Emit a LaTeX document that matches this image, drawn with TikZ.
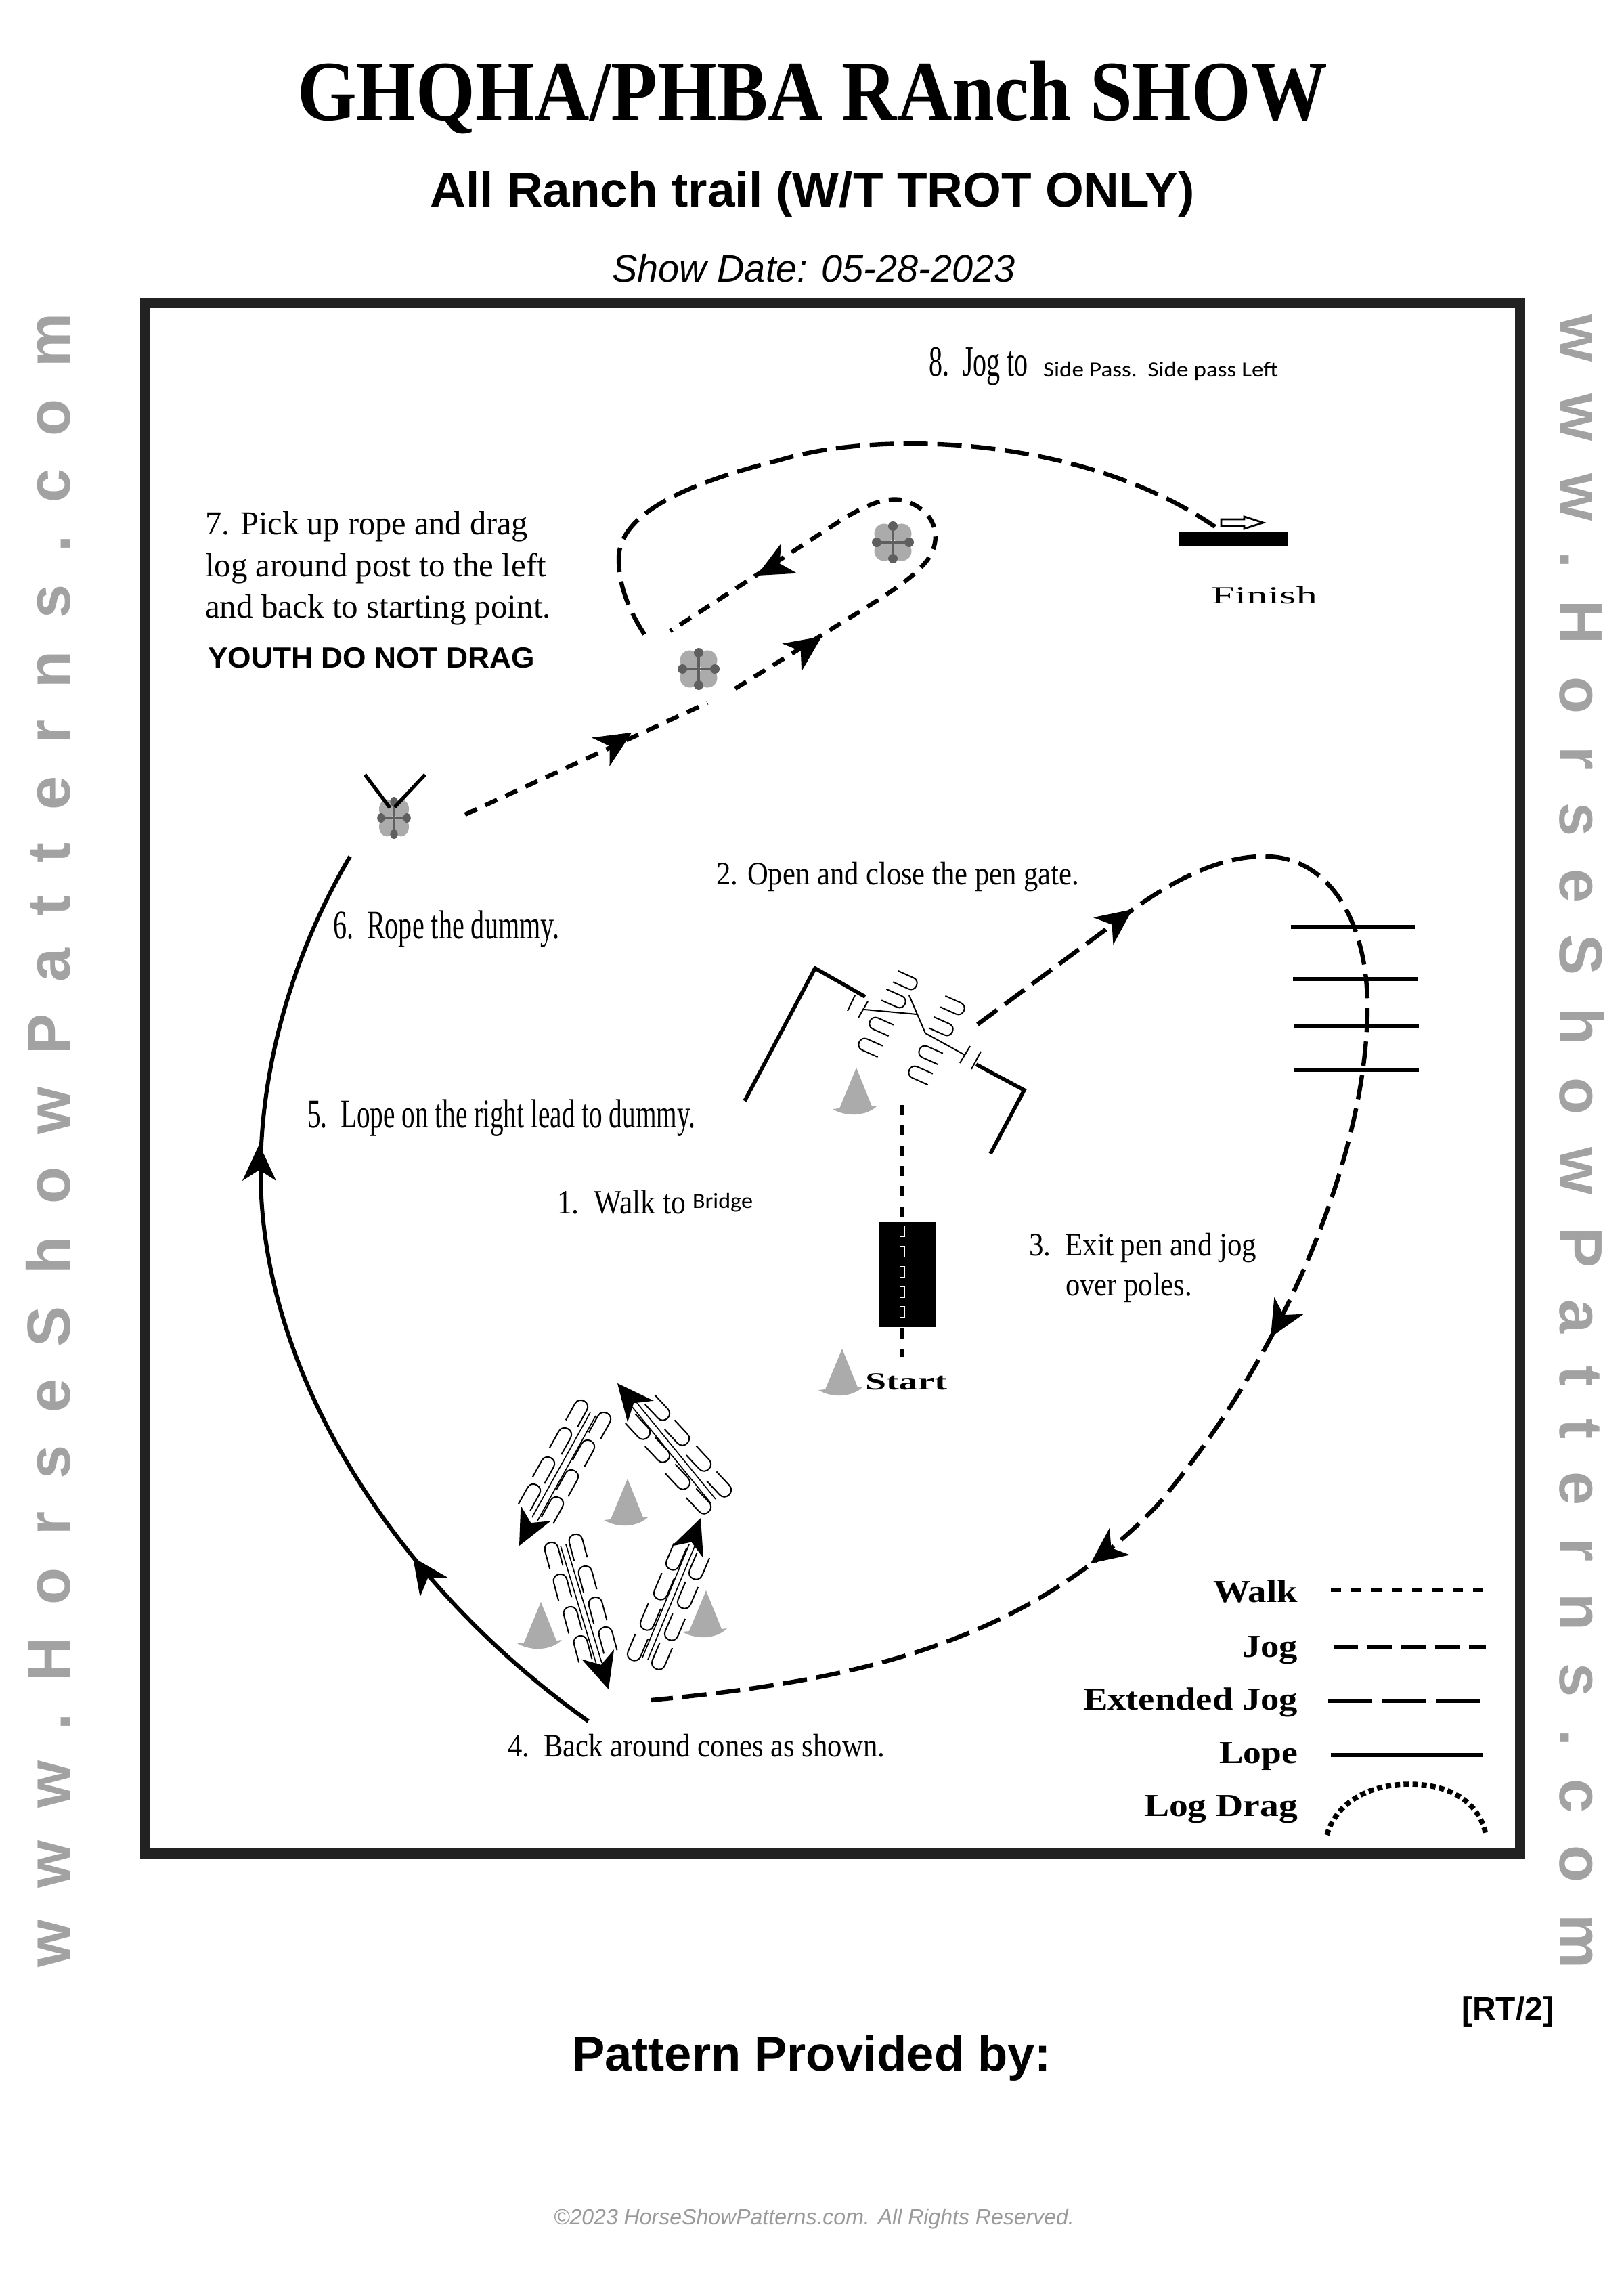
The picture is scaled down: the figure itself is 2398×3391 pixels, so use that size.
\documentclass[tikz,border=0pt]{standalone}
\usepackage{graphicx}
\usepackage{fontspec}
\setmainfont{Liberation Serif}
\setsansfont{Liberation Sans}
\newfontfamily\calfont{Carlito}
\newfontfamily\wmfont[LetterSpace=53.1]{Liberation Sans}
\newcommand\fz[1]{\fontsize{#1}{#1}\selectfont}
\newcommand\wfit[2]{\sbox0{#2}\pgfmathsetmacro\wfr{#1*0.25/\the\wd0}\scalebox{\wfr}[1]{#2}}
\definecolor{framec}{HTML}{222222}
\definecolor{wmgray}{HTML}{A2A2A2}
\definecolor{conegray}{HTML}{ABABAB}
\definecolor{postlight}{HTML}{ABABAB}
\definecolor{postdark}{HTML}{5F5F5F}
\definecolor{copyc}{HTML}{9A9A9A}
\tikzset{
  tl/.style={inner sep=0,outer sep=0,anchor=base west},
  tr/.style={inner sep=0,outer sep=0,anchor=base east},
  tc/.style={inner sep=0,outer sep=0,anchor=base},
  walkline/.style={line width=1.5pt,dash pattern=on 3.75pt off 3.75pt},
  shortjog/.style={line width=1.6pt,dash pattern=on 4.8pt off 3.4pt},
  jogline/.style={line width=1.6pt,dash pattern=on 9pt off 3.5pt},
  extline/.style={line width=1.3pt,dash pattern=on 16.25pt off 3.75pt},
  lopeline/.style={line width=1.5pt},
  dragline/.style={line width=1.9pt,dash pattern=on 2pt off 1.3pt},
  fence/.style={line width=1.4pt},
  pole/.style={line width=1.3pt},
  thinl/.style={line width=.5pt},
  shaft/.style={line width=.4pt},
  cone/.pic={\fill[conegray] (0,0) -- (-25,60) -- (-35,61) .. controls (-15,73) and (15,72) .. (31,56) -- (23,57) -- cycle;},
  ahead/.pic={\fill[black] (0,0) -- (-54,25) -- (-38,0) -- (-54,-25) -- cycle;},
  hoof/.pic={\draw[line width=.5pt] (-38,10) -- (-10,10) .. controls (3,10) and (3,-10) .. (-10,-10) -- (-38,-10);},
  post/.pic={
    \fill[postlight] (-13,-13) circle (14.5) (13,-13) circle (14.5) (-13,13) circle (14.5) (13,13) circle (14.5);
    \fill[postdark] (0,-24) circle (7) (0,24) circle (7) (-24,0) circle (7) (24,0) circle (7);
    \draw[postdark,line width=1pt] (-26,0) -- (26,0) (0,-26) -- (0,26);
  },
}
\begin{document}
\begin{tikzpicture}[x=0.25pt,y=-0.25pt]
\useasboundingbox (0,0) rectangle (2398,3391);
% frame
\draw[framec,line width=3.75pt] (214.5,447.5) rectangle (2245,2737.5);
% header
\node[tc,font=\fz{31.5}\bfseries] (title) at (1200,178) {\wfit{1522}{GHQHA/PHBA RAnch SHOW}};
\node[tc,font=\fz{18}\sffamily\bfseries] (subtitle) at (1200,306) {\wfit{1129}{All Ranch trail (W/T TROT ONLY)}};
\node[tc,font=\fz{14.2}\sffamily\itshape] (showdate) at (1202,417) {\wfit{595}{Show Date: 05-28-2023}};
% watermarks
\node[tc,rotate=90,font=\fz{22.5}\wmfont\bfseries,text=wmgray] (wmleft) at (103,1684) {www.HorseShowPatterns.com};
\node[tc,rotate=-90,font=\fz{22.5}\wmfont\bfseries,text=wmgray] (wmright) at (2304,1686) {www.HorseShowPatterns.com};
% footer
\node[tl,font=\fz{12}\sffamily\bfseries] (rt) at (2159,2983) {\wfit{136}{[RT/2]}};
\node[tl,font=\fz{18}\sffamily\bfseries] (prov) at (845,3058) {\wfit{708}{Pattern Provided by:}};
\node[tl,font=\fz{8}\sffamily\itshape,text=copyc] (copy) at (818,3285) {\wfit{769}{©2023 HorseShowPatterns.com. All Rights Reserved.}};
% instruction text
\node[tl,font=\fz{16}] (t8) at (1372,556) {\wfit{147}{8.\ \ Jog to}};
\node[tl,font=\fz{8}\calfont] (t8b) at (1541,557) {\wfit{347}{Side Pass.\ \ Side pass Left}};
\node[tl,font=\fz{12.3}] (t7a) at (303,789) {\wfit{477}{7. Pick up rope and drag}};
\node[tl,font=\fz{12.3}] (t7b) at (303,851) {\wfit{504}{log around post to the left}};
\node[tl,font=\fz{12.3}] (t7c) at (303,912) {\wfit{511}{and back to starting point.}};
\node[tl,font=\fz{10.8}\sffamily\bfseries] (t7d) at (307,986) {\wfit{483}{YOUTH DO NOT DRAG}};
\node[tl,font=\fz{12}] (t2) at (1058,1306) {\wfit{536}{2. Open and close the pen gate.}};
\node[tl,font=\fz{15}] (t6) at (492,1386) {\wfit{334}{6.\ \ Rope the dummy.}};
\node[tl,font=\fz{15}] (t5) at (454,1665) {\wfit{573}{5.\ \ Lope on the right lead to dummy.}};
\node[tl,font=\fz{12.5}] (t1) at (823,1792) {\wfit{190}{1.\ \ Walk to}};
\node[tl,font=\fz{8}\calfont] (t1b) at (1023,1784) {\wfit{89}{Bridge}};
\node[tl,font=\fz{12}] (t3a) at (1520,1854) {\wfit{336}{3.\ \ Exit pen and jog}};
\node[tl,font=\fz{12}] (t3b) at (1574,1913) {\wfit{187}{over poles.}};
\node[tl,font=\fz{12}] (t4) at (750,2594) {\wfit{557}{4.\ \ Back around cones as shown.}};
\node[tl,font=\fz{9}\bfseries] (tstart) at (1278,2052) {\wfit{121}{Start}};
\node[tl,font=\fz{9}] (tfinish) at (1789,891) {\wfit{157}{Finish}};
% legend
\node[tr,font=\fz{11.8}\bfseries] (lw) at (1917,2366) {\wfit{125}{Walk}};
\node[tr,font=\fz{11.8}\bfseries] (lj) at (1917,2447) {\wfit{82}{Jog}};
\node[tr,font=\fz{11.8}\bfseries] (le) at (1917,2525) {\wfit{317}{Extended Jog}};
\node[tr,font=\fz{11.8}\bfseries] (ll) at (1917,2604) {\wfit{116}{Lope}};
\node[tr,font=\fz{11.8}\bfseries] (ld) at (1917,2682) {\wfit{227}{Log Drag}};
\draw[walkline] (1966,2348) -- (2191,2348);
\draw[jogline] (1970,2433) -- (2195,2433);
\draw[extline] (1962,2512) -- (2187,2512);
\draw[lopeline] (1966,2592) -- (2190,2592);
\draw[dragline] (1960,2710) .. controls (1975,2660) and (2025,2635) .. (2082,2635) .. controls (2140,2635) and (2185,2660) .. (2195,2710);
% walk line and bridge
\fill[black] (1298,1805) rectangle (1382,1960);
\draw[walkline] (1332,1632) -- (1332,2004);
\foreach \y in {1810,1840,1870,1900,1929}
  \draw[white,line width=.15pt] (1329,\y) rectangle (1336,\y+16);
% gate
\draw[fence,line join=miter] (1100,1626) -- (1204,1430) -- (1278,1472);
\draw[fence,line join=miter] (1442,1572) -- (1513,1610) -- (1463,1704);
\draw[thinl] (1263,1470) -- (1252,1493) (1282,1479) -- (1268,1503) (1433,1545) -- (1418,1570) (1449,1553) -- (1435,1579)
  (1277,1491) -- (1355,1498) (1343,1470) -- (1367,1526) -- (1425,1558);
\foreach \x/\y in {1354/1456,1337/1483,1424/1493,1407/1524}
  \pic[rotate=-24,scale=.9] at (\x,\y) {hoof};
\foreach \x/\y in {1285/1508,1269/1539,1358/1550,1343/1580}
  \pic[rotate=156,scale=.9] at (\x,\y) {hoof};
% cones
\foreach \x/\y in {1265/1577,1244/1992,927/2184,799/2366,1043/2349}
  \pic at (\x,\y) {cone};
% jog from gate over poles around to cones
\draw[pole] (1907,1369) -- (2090,1369) (1910,1446) -- (2094,1446) (1912,1516) -- (2096,1516) (1912,1580) -- (2096,1580);
\draw[jogline] (1444,1513) -- (1671,1345) .. controls (1740,1295) and (1810,1262) .. (1875,1265) .. controls (1970,1270) and (2020,1370) .. (2020,1486) .. controls (2020,1700) and (1900,2000) .. (1708,2225) .. controls (1500,2440) and (1230,2485) .. (962,2511);
\pic[rotate=36.5] at (1673,1343) {ahead};
\pic[rotate=240] at (1877,1975) {ahead};
\pic[rotate=217] at (1611,2309) {ahead};
% lope
\draw[lopeline] (517,1265) .. controls (420,1430) and (385,1600) .. (385,1730) .. controls (385,2030) and (585,2340) .. (869,2542);
\pic[rotate=90] at (383,1690) {ahead};
\pic[rotate=125] at (610,2300) {ahead};
% hoof prints around cones
\foreach \x/\y in {897/2087,873/2128,849/2172,827/2212,863/2069,839/2110,814/2153,793/2193}
  \pic[rotate=61] at (\x,\y) {hoof};
\foreach \x/\y in {986/2095,1015/2132,1047/2170,1077/2208,957/2123,986/2157,1016/2197,1047/2233}
  \pic[rotate=-47] at (\x,\y) {hoof};
\foreach \x/\y in {812/2278,825/2325,840/2373,855/2416,848/2266,862/2313,877/2359,892/2403}
  \pic[rotate=105] at (\x,\y) {hoof};
\foreach \x/\y in {990/2318,972/2362,952/2407,933/2452,1024/2332,1007/2375,988/2422,969/2465}
  \pic[rotate=247] at (\x,\y) {hoof};
\draw[shaft] (872,2086) -- (786,2241) (880,2091) -- (794,2246);
\draw[shaft] (934,2078) -- (1050,2220) (941,2072) -- (1057,2214);
\draw[shaft] (828,2283) -- (881,2458) (836,2281) -- (889,2456);
\draw[shaft] (1018,2281) -- (949,2448) (1026,2284) -- (957,2451);
\pic[rotate=243] at (767,2283) {ahead};
\pic[rotate=129.5] at (912,2043) {ahead};
\pic[rotate=-73] at (899,2495) {ahead};
\pic[rotate=69] at (1035,2242) {ahead};
% posts
\pic at (1319,801) {post};
\pic at (1032,988) {post};
\pic[xscale=.8] at (582,1208) {post};
\draw[line width=1.3pt] (539,1144) -- (576,1193) (628,1144) -- (583,1192);
% walk / jog around posts
\draw[shortjog] (687,1203) -- (1045,1038);
\pic[rotate=32] at (933,1082) {ahead};
\draw[shortjog] (1086,1017) -- (1214,938) .. controls (1290,890) and (1345,860) .. (1370,827) .. controls (1392,797) and (1385,755) .. (1335,739) .. controls (1305,732) and (1270,752) .. (1246,766) -- (990,932);
\pic[rotate=35] at (1214,940) {ahead};
\pic[rotate=208] at (1118,850) {ahead};
% jog to finish
\draw[jogline] (952,937) .. controls (925,895) and (914,860) .. (914,825) .. controls (914,760) and (1010,715) .. (1150,680) .. controls (1300,634) and (1600,644) .. (1795,778);
% finish
\fill[black] (1742,786) rectangle (1902,806);
\draw[line width=.7pt,fill=white,line join=miter] (1804,767) -- (1838,767) -- (1838,763) -- (1866,772) -- (1838,781) -- (1838,777) -- (1804,777) -- cycle;
\end{tikzpicture}
\end{document}
